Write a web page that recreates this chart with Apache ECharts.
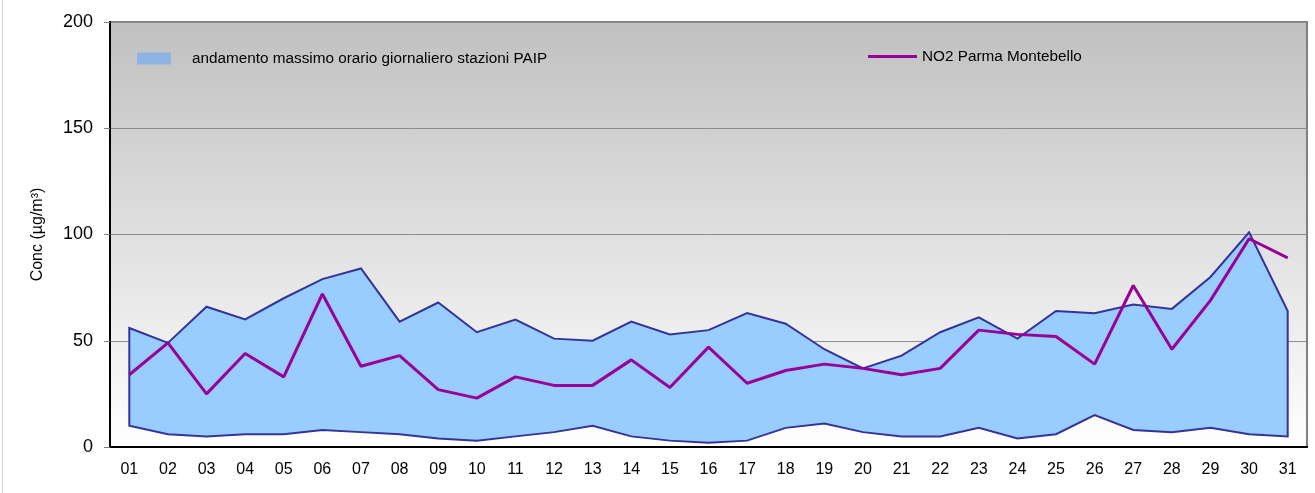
<!DOCTYPE html>
<html>
<head>
<meta charset="utf-8">
<script src="https://cdn.jsdelivr.net/npm/echarts@6/dist/echarts.min.js"></script>
<style>
html,body{margin:0;padding:0;background:#fff;}
#chart{width:1315px;height:493px;}
</style>
</head>
<body>
<div id="chart"></div>
<script>
var days = ['01','02','03','04','05','06','07','08','09','10','11','12','13','14','15','16','17','18','19','20','21','22','23','24','25','26','27','28','29','30','31'];
var maxPAIP = [56,49,66,60,70,79,84,59,68,54,60,51,50,59,53,55,63,58,46,37,43,54,61,51,64,63,67,65,80,101,64];
var minPAIP = [10,6,5,6,6,8,7,6,4,3,5,7,10,5,3,2,3,9,11,7,5,5,9,4,6,15,8,7,9,6,5];
var no2Montebello = [34,49,25,44,33,72,38,43,27,23,33,29,29,41,28,47,30,36,39,37,34,37,55,53,52,39,76,46,69,98,89];
var yTicks = {min:0, max:200, interval:50};

var bandName = 'andamento massimo orario giornaliero stazioni PAIP';
var lineName = 'NO2 Parma Montebello';

var chart = echarts.init(document.getElementById('chart'));
var font = 'Liberation Sans, Arial, sans-serif';

chart.setOption({
  animation: false,
  backgroundColor: '#ffffff',
  textStyle: {fontFamily: font},
  graphic: [{
    type: 'line', shape: {x1: 2.5, y1: 0, x2: 2.5, y2: 493},
    style: {stroke: '#d4d4d4', lineWidth: 1}
  }],
  grid: {
    left: 110, right: 8, top: 22, bottom: 46,
    show: true,
    borderColor: '#808080', borderWidth: 2,
    backgroundColor: new echarts.graphic.LinearGradient(0, 0, 0, 1, [
      {offset: 0, color: '#c0c0c0'},
      {offset: 1, color: '#ffffff'}
    ])
  },
  legend: [{
    left: 137, top: 51, padding: 0,
    itemWidth: 34, itemHeight: 12, itemGap: 0,
    textStyle: {fontSize: 15.3, color: '#000', fontFamily: font, padding: [0, 0, 0, 16]},
    data: [{name: bandName, icon: 'rect', itemStyle: {color: '#8db4e2', borderWidth: 0}}]
  }, {
    left: 868, top: 49, padding: 0,
    itemWidth: 49, itemHeight: 3, itemGap: 0,
    textStyle: {fontSize: 15.3, color: '#000', fontFamily: font},
    data: [{name: lineName, icon: 'rect', itemStyle: {color: '#990099'}}]
  }],
  xAxis: {
    type: 'category',
    data: days,
    boundaryGap: true,
    axisLine: {lineStyle: {color: '#000', width: 2}},
    axisTick: {show: false},
    axisLabel: {color: '#000', fontSize: 16, margin: 15, fontFamily: font, interval: 0},
    splitLine: {show: false}
  },
  yAxis: {
    type: 'value',
    min: yTicks.min, max: yTicks.max, interval: yTicks.interval,
    name: 'Conc (µg/m³)',
    nameLocation: 'middle',
    nameGap: 64,
    nameRotate: 90,
    nameTextStyle: {color: '#000', fontSize: 16, fontFamily: font},
    axisLine: {show: true, lineStyle: {color: '#000', width: 2}},
    axisTick: {show: true, length: 6, lineStyle: {color: '#808080'}},
    axisLabel: {color: '#000', fontSize: 18, margin: 17, fontFamily: font},
    splitLine: {show: true, lineStyle: {color: '#8c8c8c', width: 1}}
  },
  series: [{
    name: bandName,
    type: 'custom',
    z: 2,
    itemStyle: {color: '#8db4e2'},
    data: [[0, 0]],
    renderItem: function (params, api) {
      var pts = [];
      for (var i = 0; i < days.length; i++) pts.push(api.coord([i, maxPAIP[i]]));
      for (var j = days.length - 1; j >= 0; j--) pts.push(api.coord([j, minPAIP[j]]));
      return {
        type: 'polygon',
        shape: {points: pts},
        style: {fill: '#99ccff', stroke: '#333399', lineWidth: 2, lineJoin: 'miter'}
      };
    }
  }, {
    name: lineName,
    type: 'line',
    z: 3,
    data: no2Montebello,
    symbol: 'none',
    lineStyle: {color: '#990099', width: 3},
    itemStyle: {color: '#990099'}
  }]
});
</script>
</body>
</html>
